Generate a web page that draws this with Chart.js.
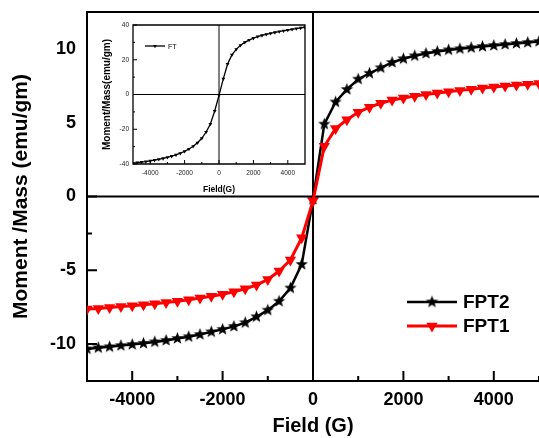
<!DOCTYPE html>
<html><head><meta charset="utf-8">
<script src="https://cdn.jsdelivr.net/npm/chart.js@4.4.0/dist/chart.umd.min.js"></script>
<style>
html,body{margin:0;padding:0;background:#fff;overflow:hidden;}
#wrap{position:relative;width:539px;height:438px;}
#main{position:absolute;left:0;top:0;width:539px;height:438px;}
#inset{position:absolute;left:88px;top:13px;width:224px;height:182px;background:#fff;}
</style></head><body>
<div id="wrap"><canvas id="main" width="539" height="438"></canvas><canvas id="inset" width="224" height="182"></canvas></div>
<script>
// ---------- data ----------
const fieldG = [-5000,-4750,-4500,-4250,-4000,-3750,-3500,-3250,-3000,-2750,-2500,-2250,-2000,-1750,-1500,-1250,-1000,-750,-500,-250,0,
                250,500,750,1000,1250,1500,1750,2000,2250,2500,2750,3000,3250,3500,3750,4000,4250,4500,4750,5000];
const fpt2 = [-10.33,-10.25,-10.18,-10.10,-10.03,-9.95,-9.85,-9.75,-9.62,-9.50,-9.35,-9.17,-9.00,-8.80,-8.55,-8.15,-7.70,-7.10,-6.20,-4.60,-0.20,
              4.90,6.40,7.25,7.95,8.35,8.72,9.08,9.33,9.53,9.69,9.82,9.93,10.01,10.08,10.16,10.23,10.30,10.37,10.43,10.50];
const fpt1 = [-7.63,-7.58,-7.52,-7.46,-7.40,-7.33,-7.26,-7.18,-7.10,-7.00,-6.88,-6.76,-6.62,-6.45,-6.25,-6.00,-5.62,-5.05,-4.30,-2.80,-0.30,
              3.40,4.60,5.20,5.70,6.05,6.32,6.53,6.68,6.80,6.91,7.01,7.10,7.19,7.27,7.35,7.42,7.48,7.55,7.60,7.65];
const ft = [-39.5,-39.2,-38.9,-38.6,-38.2,-37.8,-37.3,-36.8,-36.2,-35.5,-34.7,-33.8,-32.7,-31.4,-29.8,-27.8,-25.2,-21.6,-17.0,-9.5,-0.5,
            9.0,17.5,22.8,26.0,28.3,30.0,31.3,32.4,33.3,34.0,34.6,35.2,35.7,36.2,36.7,37.1,37.5,37.9,38.3,38.6];
const mainXTicks = [-4000,-2000,0,2000,4000];
const mainXMinor = [-5000,-3000,-1000,1000,3000,5000];
const mainYTicks = [-10,-5,0,5,10];
const mainYMinor = [-12.5,-7.5,-2.5,2.5,7.5,12.5];
const insetXTicks = [-4000,-2000,0,2000,4000];
const insetXMinor = [-3000,-1000,1000,3000];
const insetYTicks = [-40,-20,0,20,40];
const insetYMinor = [-30,-10,10,30];
const seriesNames = ['FPT2','FPT1'];
const insetName = 'FT';

const FONT = '"Liberation Sans", Arial, sans-serif';

function makeStar(r, color){
  const s = Math.ceil(r*2+2);
  const c = document.createElement('canvas'); c.width = s; c.height = s;
  const g = c.getContext('2d'); g.fillStyle = color; g.beginPath();
  for (let i=0;i<10;i++){
    const rr = i%2 ? r*0.42 : r;
    const a = -Math.PI/2 + i*Math.PI/5;
    const px = s/2 + rr*Math.cos(a), py = s/2 + rr*Math.sin(a);
    if (i) g.lineTo(px,py); else g.moveTo(px,py);
  }
  g.closePath(); g.fill();
  return c;
}
const starImg = makeStar(6.5, '#000');

function pts(xs, ys){ return xs.map((v,i)=>({x:v, y:ys[i]})); }
const plain = v => String(v);
const noPadX = s => { s.paddingLeft = 0; s.paddingRight = 0; };
const noPadY = s => { s.paddingTop = 0; s.paddingBottom = 0; };

function framePlugin(cfg){
  return {
    id: 'frame',
    beforeDatasetsDraw(chart){
      const {ctx, chartArea:a, scales:{x,y}} = chart;
      ctx.save();
      ctx.strokeStyle = '#000';
      ctx.lineWidth = cfg.zeroW;
      const x0 = x.getPixelForValue(0), y0 = y.getPixelForValue(0);
      ctx.beginPath();
      ctx.moveTo(a.left, y0); ctx.lineTo(a.right + cfg.ext, y0);
      ctx.moveTo(x0, a.top); ctx.lineTo(x0, a.bottom);
      ctx.stroke();
      ctx.lineWidth = cfg.frameW;
      ctx.beginPath();
      if (cfg.full){
        ctx.rect(a.left, a.top, a.right-a.left, a.bottom-a.top);
      } else {
        ctx.moveTo(a.right + cfg.ext, a.top); ctx.lineTo(a.left, a.top);
        ctx.lineTo(a.left, a.bottom); ctx.lineTo(a.right + cfg.ext, a.bottom);
      }
      ctx.stroke();
      ctx.lineWidth = cfg.tickW;
      ctx.beginPath();
      cfg.xMajor.forEach(v=>{const p=x.getPixelForValue(v); ctx.moveTo(p,a.bottom); ctx.lineTo(p,a.bottom-cfg.maj);});
      cfg.xMinor.forEach(v=>{const p=x.getPixelForValue(v); ctx.moveTo(p,a.bottom); ctx.lineTo(p,a.bottom-cfg.min);});
      cfg.yMajor.forEach(v=>{const p=y.getPixelForValue(v); ctx.moveTo(a.left,p); ctx.lineTo(a.left+cfg.maj,p);});
      cfg.yMinor.forEach(v=>{const p=y.getPixelForValue(v); ctx.moveTo(a.left,p); ctx.lineTo(a.left+cfg.min,p);});
      ctx.stroke();
      ctx.restore();
    },
    afterDraw(chart){
      const {ctx} = chart;
      ctx.save();
      cfg.legend.forEach((it, i)=>{
        const ds = chart.data.datasets[it.ds];
        const yy = cfg.legY + i*cfg.legGap;
        ctx.strokeStyle = ds.borderColor; ctx.lineWidth = ds.borderWidth;
        ctx.beginPath(); ctx.moveTo(cfg.legX, yy); ctx.lineTo(cfg.legX+cfg.legLen, yy); ctx.stroke();
        const cx = cfg.legX + cfg.legLen/2;
        if (ds.pointStyle === 'triangle'){
          const r = ds.pointRadius;
          ctx.fillStyle = ds.pointBackgroundColor;
          ctx.beginPath();
          ctx.moveTo(cx - r*0.866, yy - r*0.5);
          ctx.lineTo(cx + r*0.866, yy - r*0.5);
          ctx.lineTo(cx, yy + r);
          ctx.closePath(); ctx.fill();
        } else {
          ctx.drawImage(ds.pointStyle, cx - ds.pointStyle.width/2, yy - ds.pointStyle.height/2);
        }
        ctx.fillStyle = '#000';
        ctx.font = cfg.legFont;
        ctx.textBaseline = 'middle'; ctx.textAlign = 'left';
        ctx.fillText(it.label, cfg.legX + cfg.legLen + cfg.legTextGap, yy + 1);
      });
      ctx.restore();
    }
  };
}

// ---------- main chart ----------
new Chart(document.getElementById('main'), {
  type: 'line',
  data: {
    datasets: [
      { label: seriesNames[0], data: pts(fieldG, fpt2), borderColor: '#000', borderWidth: 2.5,
        pointStyle: starImg, pointRadius: 6, tension: 0, order: 2 },
      { label: seriesNames[1], data: pts(fieldG, fpt1), borderColor: '#ff0000', borderWidth: 3,
        pointStyle: 'triangle', rotation: 180, pointRadius: 6.5, pointBackgroundColor: '#ff0000',
        pointBorderColor: '#ff0000', pointBorderWidth: 0, tension: 0, order: 1 }
    ]
  },
  options: {
    responsive: false, animation: false, devicePixelRatio: 1,
    layout: { autoPadding: false, padding: { top: 12, right: 0, left: 0, bottom: 0 } },
    plugins: { legend: { display: false }, tooltip: { enabled: false } },
    scales: {
      x: {
        type: 'linear', min: -5000, max: 5000,
        afterBuildTicks: s => { s.ticks = mainXTicks.map(v => ({ value: v })); },
        afterFit: s => { s.height = 57; noPadX(s); },
        grid: { display: false, drawTicks: false }, border: { display: false },
        ticks: { color: '#000', font: { family: FONT, size: 18, weight: 'bold' }, padding: 8, maxRotation: 0, callback: plain },
        title: { display: true, text: 'Field (G)', color: '#000', font: { family: FONT, size: 20, weight: 'bold' }, padding: { top: 0, bottom: 0 } }
      },
      y: {
        type: 'linear', min: -12.5, max: 12.5,
        afterBuildTicks: s => { s.ticks = mainYTicks.map(v => ({ value: v })); },
        afterFit: s => { s.width = 87; noPadY(s); },
        grid: { display: false, drawTicks: false }, border: { display: false },
        ticks: { color: '#000', font: { family: FONT, size: 18, weight: 'bold' }, padding: 11, callback: plain },
        title: { display: true, text: 'Moment /Mass (emu/gm)', color: '#000', font: { family: FONT, size: 21, weight: 'bold' }, padding: { top: 9, bottom: 0 } }
      }
    }
  },
  plugins: [framePlugin({
    zeroW: 2, frameW: 2, tickW: 2, maj: 10, min: 5, ext: 5, full: false,
    xMajor: mainXTicks, xMinor: mainXMinor, yMajor: mainYTicks, yMinor: mainYMinor,
    legend: [{ ds: 0, label: seriesNames[0] }, { ds: 1, label: seriesNames[1] }],
    legX: 407, legLen: 50, legY: 302, legGap: 24, legTextGap: 6,
    legFont: 'bold 19px ' + FONT
  })]
});

// ---------- inset chart ----------
new Chart(document.getElementById('inset'), {
  type: 'line',
  data: {
    datasets: [
      { label: insetName, data: pts(fieldG, ft), borderColor: '#000', borderWidth: 1.3,
        pointStyle: 'triangle', rotation: 180, pointRadius: 2.2, pointBackgroundColor: '#000',
        pointBorderColor: '#000', pointBorderWidth: 0, tension: 0 }
    ]
  },
  options: {
    responsive: false, animation: false, devicePixelRatio: 1,
    layout: { autoPadding: false, padding: { top: 12, right: 7, left: 0, bottom: 0 } },
    plugins: { legend: { display: false }, tooltip: { enabled: false } },
    scales: {
      x: {
        type: 'linear', min: -5000, max: 5000,
        afterBuildTicks: s => { s.ticks = insetXTicks.map(v => ({ value: v })); },
        afterFit: s => { s.height = 31; noPadX(s); },
        grid: { display: false, drawTicks: false }, border: { display: false },
        ticks: { color: '#222', font: { family: FONT, size: 6.5 }, padding: 5, maxRotation: 0, callback: plain },
        title: { display: true, text: 'Field(G)', color: '#000', font: { family: FONT, size: 8.5, weight: 'bold' }, padding: { top: 0, bottom: 0 } }
      },
      y: {
        type: 'linear', min: -40, max: 40,
        afterBuildTicks: s => { s.ticks = insetYTicks.map(v => ({ value: v })); },
        afterFit: s => { s.width = 45; noPadY(s); },
        grid: { display: false, drawTicks: false }, border: { display: false },
        ticks: { color: '#222', font: { family: FONT, size: 6.5 }, padding: 4, callback: plain },
        title: { display: true, text: 'Moment/Mass(emu/gm)', color: '#000', font: { family: FONT, size: 10, weight: 'bold' }, padding: { top: 13, bottom: 0 } }
      }
    }
  },
  plugins: [framePlugin({
    zeroW: 1, frameW: 1.3, tickW: 1, maj: 4, min: 2, ext: 0, full: true,
    xMajor: insetXTicks, xMinor: insetXMinor, yMajor: insetYTicks, yMinor: insetYMinor,
    legend: [{ ds: 0, label: insetName }],
    legX: 57, legLen: 20, legY: 33, legGap: 0, legTextGap: 3,
    legFont: '7px ' + FONT
  })]
});
</script>
</body></html>
